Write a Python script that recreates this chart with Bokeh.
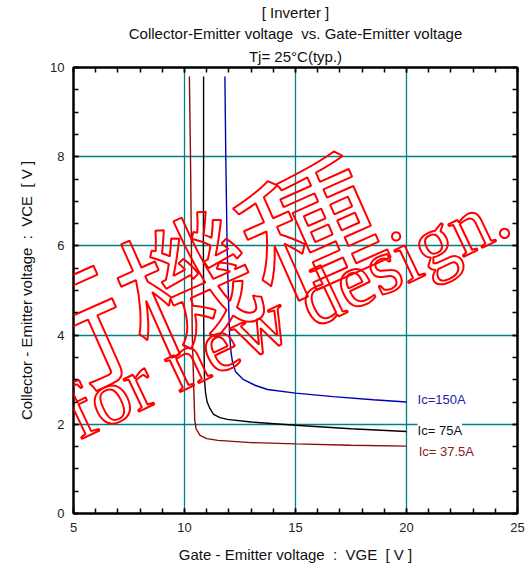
from bokeh.plotting import figure
from bokeh.models import Label, LinearAxis, Range1d, FixedTicker, Title
from bokeh.embed import file_html
from bokeh.resources import INLINE

# ---- data ----
vge_375 = [10.22, 10.27, 10.31, 10.35, 10.42, 10.46, 10.52, 10.70, 11.0, 11.5, 13.0, 15.0, 17.5, 20.0]
vce_375 = [9.8, 8.0, 6.0, 4.0, 2.8, 2.1, 1.9, 1.75, 1.68, 1.64, 1.59, 1.56, 1.53, 1.51]

vge_75 = [10.86, 10.86, 10.85, 10.87, 10.90, 10.95, 11.02, 11.15, 11.31, 11.6, 11.93, 13.0, 15.0, 17.5, 20.0]
vce_75 = [9.8, 8.0, 6.0, 4.0, 3.0, 2.7, 2.5, 2.35, 2.22, 2.15, 2.11, 2.05, 1.98, 1.90, 1.84]

vge_150 = [11.82, 11.86, 11.92, 11.97, 12.03, 12.10, 12.16, 12.30, 12.66, 13.2, 13.74, 15.0, 16.7, 18.5, 20.0]
vce_150 = [9.8, 8.0, 6.0, 5.0, 4.0, 3.6, 3.4, 3.18, 3.0, 2.87, 2.78, 2.70, 2.62, 2.55, 2.50]

x_ticks = [5, 10, 15, 20, 25]
y_ticks = [0, 2, 4, 6, 8, 10]
x_grid = [10, 15, 20]
y_grid = [2, 4, 6, 8]

NB = "\u00a0"
title_lines = ["[ Inverter ]",
               "Collector-Emitter voltage " + NB + "vs. Gate-Emitter voltage",
               "Tj= 25\u00b0C(typ.)"]
curve_labels = ["Ic=150A", "Ic= 75A", "Ic= 37.5A"]
x_title = "Gate - Emitter voltage " + NB + ": " + NB + "VGE " + NB + "[ V ]"
y_title = "Collector - Emitter voltage " + NB + ": " + NB + "VCE " + NB + "[ V ]"
wm_jp = "\u79fb\u884c\u6a5f\u7a2e"
wm_en = "Not recommended for new design."

FONT = "Liberation Sans"

p = figure(width=525, height=571, x_range=Range1d(5, 25), y_range=Range1d(0, 10),
           output_backend="svg", toolbar_location=None,
           min_border_left=73, min_border_right=8, min_border_top=63, min_border_bottom=58)
p.background_fill_color = "white"
p.border_fill_color = "white"
p.outline_line_color = "black"
p.outline_line_width = 2

p.xgrid.ticker = FixedTicker(ticks=x_grid)
p.ygrid.ticker = FixedTicker(ticks=y_grid)
for g in (p.xgrid, p.ygrid):
    g.grid_line_color = "#008080"
    g.grid_line_width = 1.3

xt = FixedTicker(ticks=x_ticks, minor_ticks=list(range(5, 26)))
yt = FixedTicker(ticks=y_ticks, minor_ticks=[i * 0.5 for i in range(21)])


def style(ax, labels=True):
    ax.axis_line_color = "black"
    ax.axis_line_width = 2
    ax.major_tick_in = 5
    ax.major_tick_out = 0
    ax.minor_tick_in = 5
    ax.minor_tick_out = 0
    ax.major_tick_line_width = 1.5
    ax.minor_tick_line_width = 1.5
    ax.major_tick_line_color = "black"
    ax.minor_tick_line_color = "black"
    ax.major_label_text_font = FONT
    ax.major_label_text_color = "#222222"
    ax.axis_label_text_font = FONT
    ax.axis_label_text_font_size = "15px"
    ax.axis_label_text_font_style = "normal"
    ax.axis_label_text_color = "#111111"
    if labels:
        ax.major_label_text_font_size = "13px"
        ax.major_label_standoff = 9
    else:
        ax.major_label_text_font_size = "0px"
        ax.major_label_standoff = 0


p.xaxis.ticker = xt
p.yaxis.ticker = yt
style(p.xaxis[0])
style(p.yaxis[0])
p.xaxis.axis_label = x_title
p.yaxis.axis_label = y_title
p.xaxis.axis_label_standoff = 11
p.yaxis.axis_label_standoff = 12

top = LinearAxis(ticker=xt)
style(top, labels=False)
p.add_layout(top, "above")
right = LinearAxis(ticker=yt)
style(right, labels=False)
p.add_layout(right, "right")

# title (three lines, first added is closest to the frame)
for i, txt in enumerate(reversed(title_lines)):
    p.add_layout(Title(text=txt, align="center", text_font=FONT, text_font_size="15px",
                       text_font_style="normal", text_color="#111111",
                       standoff=6 if i == 0 else 2), "above")

# curves
p.line(vge_375, vce_375, line_color="#8B0A0A", line_width=1.4)
p.line(vge_75, vce_75, line_color="black", line_width=1.4)
p.line(vge_150, vce_150, line_color="#0000B0", line_width=1.4)

# curve labels
p.add_layout(Label(x=20.5, y=2.56, text=curve_labels[0], text_baseline="middle",
                   text_font=FONT, text_font_size="13px", text_color="#2222B0"))
p.add_layout(Label(x=20.5, y=1.87, text=curve_labels[1], text_baseline="middle",
                   text_font=FONT, text_font_size="13px", text_color="#111111",
                   background_fill_color="white"))
p.add_layout(Label(x=20.55, y=1.38, text=curve_labels[2], text_baseline="middle",
                   text_font=FONT, text_font_size="13px", text_color="#8B1A1A"))

# watermark (outlined red text, transparent fill)
p.add_layout(Label(x=7.15, y=4.70, text=wm_jp, angle=24, angle_units="deg",
                   text_align="center", text_baseline="middle",
                   text_font="Noto Sans CJK JP", text_font_size="135px",
                   text_color="#ffffff00", text_alpha=1.0, text_outline_color="red"))
p.add_layout(Label(x=24.37, y=6.84, text=wm_en, angle=25.5, angle_units="deg",
                   text_align="right", text_baseline="alphabetic",
                   text_font="Liberation Serif", text_font_size="78px",
                   text_color="#ffffff00", text_alpha=1.0, text_outline_color="red"))

open("out.html", "w").write(file_html(p, INLINE))
